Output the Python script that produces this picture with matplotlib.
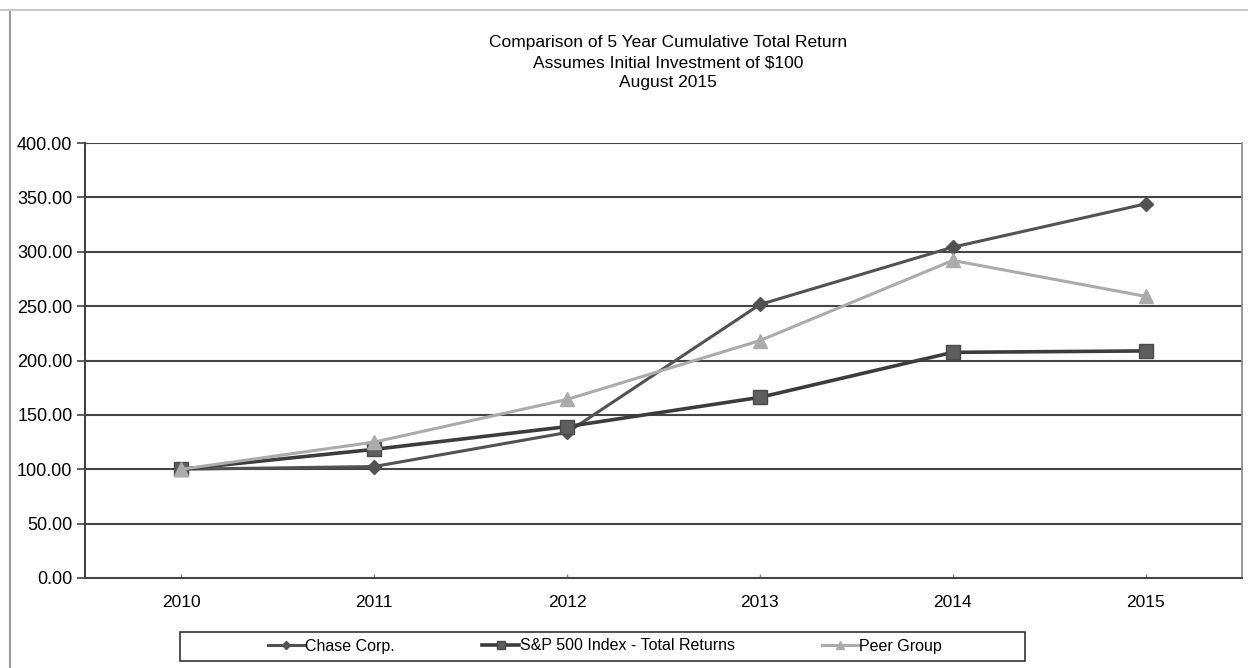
import matplotlib
matplotlib.use("Agg")
import matplotlib.pyplot as plt
from matplotlib.lines import Line2D
from matplotlib.patches import Rectangle

plt.rcParams['font.family'] = ['Liberation Sans', 'DejaVu Sans']

years = ['2010', '2011', '2012', '2013', '2014', '2015']
chase = [100.0, 102.5, 133.8, 251.5, 304.2, 344.0]
sp500 = [100.0, 118.3, 139.2, 166.1, 207.5, 208.8]
peer = [100.0, 125.0, 164.2, 218.3, 292.0, 259.0]
y_ticks = [0, 50, 100, 150, 200, 250, 300, 350, 400]

W, H = 1248, 668
fig = plt.figure(figsize=(W / 100, H / 100), dpi=100)

# axes placed by pixel box of the reference
ax = fig.add_axes([85 / W, (H - 578) / H, (1242 - 85) / W, (578 - 143) / H])

x = list(range(len(years)))
ax.plot(x, chase, color='#525252', lw=2.2, marker='D', ms=7,
        label='Chase Corp.', zorder=2)
ax.plot(x, sp500, color='#3c3c3c', lw=2.6, marker='s', ms=10,
        mfc='#5e5e5e', mec='#4a4a4a', label='S&P 500 Index - Total Returns', zorder=3)
ax.plot(x, peer, color='#ababab', lw=2.2, marker='^', ms=10,
        label='Peer Group', zorder=4)

ax.set_xlim(-0.5, len(years) - 0.5)
ax.set_ylim(0, 400)
ax.set_yticks(y_ticks)
ax.set_yticklabels([f'{v:.2f}' for v in y_ticks], fontsize=13)
ax.set_xticks(x)
ax.set_xticklabels(years, fontsize=12.5)
ax.tick_params(axis='y', direction='out', length=6, width=1.2, color='#444444', pad=3)
ax.tick_params(axis='x', direction='in', length=3, width=1, color='#888888', pad=12)

for yt in y_ticks[1:]:
    ax.axhline(yt, color='#454545', lw=1.5, zorder=1)

for side in ['left', 'bottom']:
    ax.spines[side].set_color('#444444')
    ax.spines[side].set_linewidth(1.5)
ax.spines['top'].set_visible(False)
ax.spines['right'].set_color('#888888')
ax.spines['right'].set_linewidth(1.2)

# title block
fig.text(668 / W, 1 - 43 / H, 'Comparison of 5 Year Cumulative Total Return',
         ha='center', va='center', fontsize=12.5)
fig.text(668 / W, 1 - 63 / H, 'Assumes Initial Investment of $100',
         ha='center', va='center', fontsize=12.5)
fig.text(668 / W, 1 - 82 / H, 'August 2015',
         ha='center', va='center', fontsize=12.5)

# outer chart border (left and top)
fig.add_artist(Line2D([10 / W, 10 / W], [0, 1 - 10 / H], transform=fig.transFigure,
                      color='#9a9a9a', lw=1.5))
fig.add_artist(Line2D([0, 1], [1 - 10 / H, 1 - 10 / H], transform=fig.transFigure,
                      color='#c8c8c8', lw=1.5))

# legend box
fig.add_artist(Rectangle((180 / W, (H - 661) / H), (1025 - 180) / W, 29 / H,
                         transform=fig.transFigure, fill=False,
                         edgecolor='#333333', lw=1.2))
handles, labels = ax.get_legend_handles_labels()
leg = fig.legend(handles, labels, loc='center', ncol=3,
                 bbox_to_anchor=(605 / W, (H - 646) / H), frameon=False,
                 fontsize=11.5, handlelength=2.3, handletextpad=0.05,
                 columnspacing=5.45, markerscale=0.6)

fig.savefig('out.png', dpi=100, facecolor='white')
